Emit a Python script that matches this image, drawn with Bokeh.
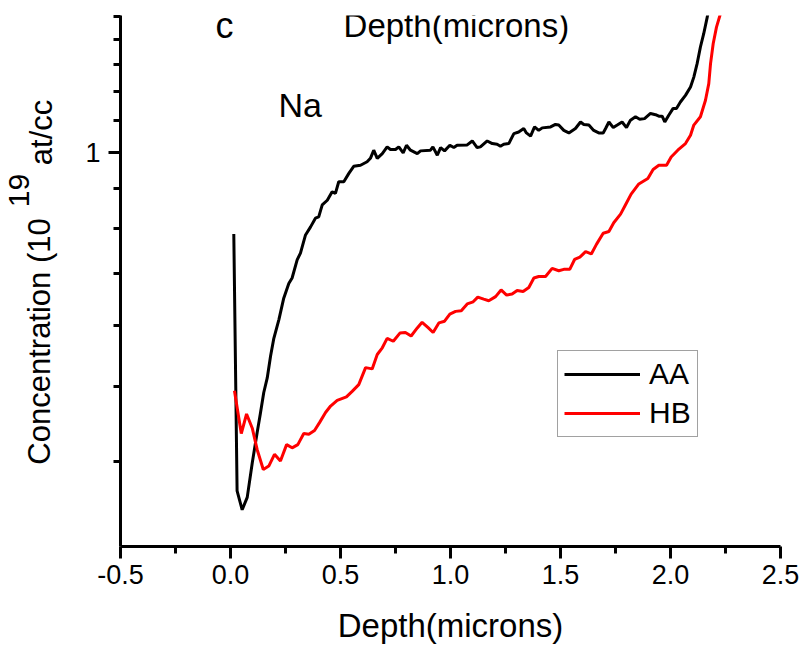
import math
from bokeh.plotting import figure
from bokeh.layouts import row
from bokeh.core.properties import value
from bokeh.models import (Range1d, FixedTicker, PrintfTickFormatter, Label, Legend, LegendItem)
from bokeh.embed import file_html
from bokeh.resources import INLINE

# Depth (microns) and Na concentration (10^19 at/cc)
aa_depth = [0.015, 0.030, 0.053, 0.076, 0.099, 0.121, 0.136, 0.151, 0.167, 0.182,
            0.197, 0.220, 0.242, 0.265, 0.280, 0.303, 0.318, 0.341, 0.364, 0.386,
            0.401, 0.417, 0.440, 0.462, 0.477, 0.492, 0.515, 0.538, 0.560, 0.591,
            0.621, 0.636, 0.651, 0.667, 0.690, 0.712, 0.727, 0.750, 0.765, 0.785,
            0.800, 0.818, 0.849, 0.864, 0.909, 0.920, 0.940, 0.955, 0.973, 0.997,
            1.015, 1.030, 1.076, 1.099, 1.121, 1.136, 1.167, 1.190, 1.212, 1.227,
            1.242, 1.265, 1.288, 1.310, 1.333, 1.345, 1.364, 1.382, 1.401, 1.417,
            1.455, 1.477, 1.492, 1.515, 1.538, 1.568, 1.591, 1.606, 1.629, 1.651,
            1.674, 1.694, 1.705, 1.720, 1.740, 1.758, 1.780, 1.800, 1.818, 1.841,
            1.860, 1.882, 1.909, 1.932, 1.947, 1.962, 1.974, 1.992, 2.012, 2.027,
            2.045, 2.068, 2.091, 2.106, 2.121, 2.136, 2.151, 2.167, 2.182, 2.190]
aa_conc = [0.786, 0.367, 0.347, 0.360, 0.399, 0.436, 0.462, 0.491, 0.513, 0.547,
           0.577, 0.610, 0.650, 0.679, 0.690, 0.728, 0.743, 0.784, 0.803, 0.824,
           0.827, 0.857, 0.869, 0.891, 0.887, 0.918, 0.918, 0.941, 0.961, 0.964,
           0.974, 0.984, 1.008, 0.984, 0.998, 1.018, 1.010, 1.010, 1.018, 1.000,
           1.023, 1.008, 0.998, 1.006, 1.008, 1.018, 0.993, 1.016, 1.006, 1.023,
           1.016, 1.023, 1.024, 1.036, 1.016, 1.018, 1.036, 1.028, 1.026, 1.020,
           1.026, 1.028, 1.059, 1.064, 1.075, 1.061, 1.051, 1.080, 1.069, 1.077,
           1.080, 1.088, 1.086, 1.069, 1.061, 1.075, 1.096, 1.088, 1.086, 1.069,
           1.061, 1.061, 1.075, 1.096, 1.078, 1.086, 1.096, 1.078, 1.102, 1.113,
           1.105, 1.107, 1.124, 1.120, 1.115, 1.115, 1.096, 1.118, 1.141, 1.141,
           1.163, 1.186, 1.216, 1.252, 1.303, 1.369, 1.424, 1.496, 1.570, 1.620]

hb_depth = [0.018, 0.049, 0.073, 0.099, 0.121, 0.149, 0.174, 0.200, 0.227, 0.255,
            0.280, 0.306, 0.333, 0.356, 0.382, 0.406, 0.432, 0.455, 0.485, 0.527,
            0.553, 0.583, 0.614, 0.644, 0.667, 0.690, 0.712, 0.740, 0.770, 0.795,
            0.821, 0.849, 0.871, 0.897, 0.921, 0.947, 0.973, 0.997, 1.023, 1.049,
            1.076, 1.103, 1.124, 1.151, 1.174, 1.205, 1.230, 1.255, 1.280, 1.303,
            1.330, 1.356, 1.379, 1.401, 1.432, 1.462, 1.492, 1.515, 1.542, 1.564,
            1.588, 1.614, 1.640, 1.664, 1.694, 1.720, 1.742, 1.773, 1.795, 1.821,
            1.856, 1.897, 1.921, 1.947, 1.982, 2.003, 2.033, 2.068, 2.091, 2.106,
            2.136, 2.159, 2.174, 2.182, 2.194, 2.209, 2.227, 2.236]
hb_conc = [0.494, 0.435, 0.461, 0.442, 0.415, 0.391, 0.395, 0.409, 0.401, 0.421,
           0.417, 0.421, 0.435, 0.434, 0.439, 0.450, 0.463, 0.472, 0.480, 0.485,
           0.493, 0.503, 0.529, 0.527, 0.550, 0.561, 0.577, 0.572, 0.586, 0.587,
           0.581, 0.595, 0.605, 0.596, 0.587, 0.604, 0.607, 0.620, 0.625, 0.626,
           0.639, 0.643, 0.652, 0.648, 0.645, 0.653, 0.666, 0.656, 0.658, 0.665,
           0.663, 0.671, 0.690, 0.693, 0.693, 0.710, 0.705, 0.708, 0.708, 0.729,
           0.734, 0.746, 0.741, 0.763, 0.788, 0.792, 0.813, 0.834, 0.857, 0.885,
           0.912, 0.927, 0.952, 0.964, 0.964, 0.988, 1.008, 1.028, 1.054, 1.086,
           1.113, 1.169, 1.228, 1.303, 1.382, 1.452, 1.511, 1.560]

x_major = [-0.5, 0.0, 0.5, 1.0, 1.5, 2.0, 2.5]
x_minor = [-0.25, 0.25, 0.75, 1.25, 1.75, 2.25]
y_major = [1.0]
y_minor = [0.4, 0.5, 0.6, 0.7, 0.8, 0.9, 1.1, 1.2, 1.3, 1.4, 1.5]

FONT = "Liberation Sans"
LEFT_W = 70  # width of the strip that holds the rotated y-axis title

p = figure(width=800 - LEFT_W, height=646, output_backend="svg", toolbar_location=None,
           x_range=Range1d(-0.5, 2.5), y_range=Range1d(0.3112, 1.503),
           y_axis_type="log", min_border_left=120 - LEFT_W, min_border_right=20,
           min_border_top=15, min_border_bottom=99)
p.outline_line_color = None
p.grid.visible = False
p.background_fill_color = "white"
p.border_fill_color = "white"

r_aa = p.line(aa_depth, aa_conc, line_color="black", line_width=3)
r_hb = p.line(hb_depth, hb_conc, line_color="#ff0000", line_width=3)

xa = p.xaxis[0]
xa.ticker = FixedTicker(ticks=x_major, minor_ticks=x_minor)
xa.formatter = PrintfTickFormatter(format="%.1f")
xa.axis_label = "Depth(microns)"
ya = p.yaxis[0]
ya.ticker = FixedTicker(ticks=y_major, minor_ticks=y_minor)
ya.formatter = PrintfTickFormatter(format="%.0f")
for ax in (xa, ya):
    ax.axis_line_width = 3
    ax.major_tick_line_width = 3
    ax.minor_tick_line_width = 3
    ax.major_tick_out = 12
    ax.major_tick_in = 0
    ax.minor_tick_out = 7
    ax.minor_tick_in = 0
    ax.major_label_text_font = FONT
    ax.major_label_text_font_size = "27px"
    ax.major_label_text_color = "black"
    ax.axis_label_text_font = FONT
    ax.axis_label_text_font_size = "33px"
    ax.axis_label_text_font_style = "normal"
    ax.axis_label_text_color = "black"
xa.major_label_standoff = 6
xa.axis_label_standoff = 20
ya.major_label_standoff = 8

# in-plot annotations
txt_kw = dict(text_font=FONT, text_color="black", text_baseline="alphabetic")
p.add_layout(Label(x=-0.068, y=1.459, text="c", text_font_size="36px", **txt_kw))
p.add_layout(Label(x=0.514, y=1.459, text="Depth(microns)", text_font_size="33px", **txt_kw))
p.add_layout(Label(x=0.218, y=1.152, text="Na", text_font_size="34px", **txt_kw))

legend = Legend(items=[LegendItem(label="AA", renderers=[r_aa]),
                       LegendItem(label="HB", renderers=[r_hb])],
                location=(437, 109), orientation="vertical")
legend.label_text_font = FONT
legend.label_text_font_size = "30px"
legend.label_text_color = "black"
legend.glyph_width = 76
legend.glyph_height = 30
legend.label_standoff = 9
legend.padding = 6
legend.spacing = 5
legend.margin = 0
legend.border_line_color = "#444444"
legend.border_line_width = 1
legend.background_fill_alpha = 1
p.add_layout(legend)

# strip on the left carrying the y-axis title "Concentration (10^19 at/cc)"
lab = figure(width=LEFT_W, height=646, output_backend="svg", toolbar_location=None,
             x_range=Range1d(0, LEFT_W), y_range=Range1d(99, 631),
             x_axis_location=None, y_axis_location=None,
             min_border_left=0, min_border_right=0, min_border_top=15, min_border_bottom=99)
lab.outline_line_color = None
lab.background_fill_color = "white"
lab.border_fill_color = "white"
for g in lab.grid:
    g.visible = False
title_kw = dict(angle=math.pi / 2, text_font=value(FONT), text_color="black",
                text_baseline="alphabetic", text_align="left")
lab.text(x=[39], y=[181], text=["Concentration (10"], text_font_size="31px", **title_kw)
lab.text(x=[18], y=[439], text=["19"], text_font_size="30px", **title_kw)
lab.text(x=[41], y=[481], text=["at/cc"], text_font_size="31px", **title_kw)

layout = row(lab, p)
open("out.html", "w").write(file_html(layout, INLINE))
